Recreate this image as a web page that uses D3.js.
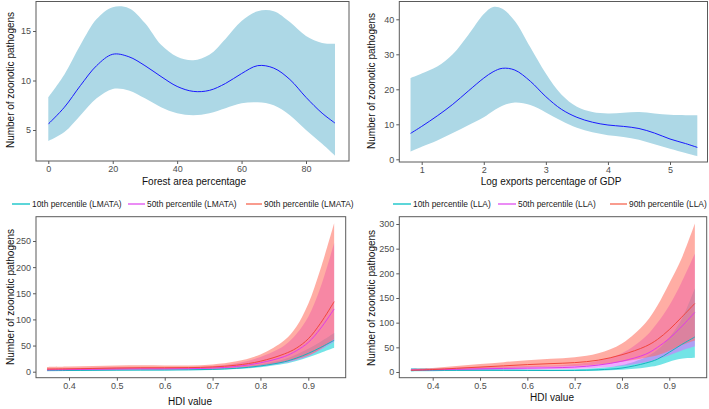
<!DOCTYPE html>
<html><head><meta charset="utf-8">
<script src="https://cdn.jsdelivr.net/npm/d3@7"></script>
<style>body{margin:0;background:#fff}text{font-family:"Liberation Sans",Arial,sans-serif}</style>
</head><body>
<svg id="chart" width="709" height="409"></svg>
<script>
// ---------- data ----------
const forestX     = [0,5,10,15,20,25,30,35,40,45,50,55,60,65,70,75,80,85,89];
const forestFit   = [5.6,7.3,9.5,11.5,12.65,12.4,11.5,10.4,9.4,8.9,9.0,9.7,10.7,11.5,11.25,10.1,8.3,6.7,5.7];
const forestUpper = [8.3,10.6,13.6,16.2,17.4,17.3,15.8,13.6,12.4,12.05,12.6,14.2,16.0,17.0,17.0,15.9,14.5,13.8,13.7];
const forestLower = [3.9,4.8,6.5,8.2,9.15,9.0,8.2,7.3,6.7,6.5,6.7,7.2,7.7,7.8,7.5,6.5,5.0,3.6,2.4];
const forestXTicks = [0,20,40,60,80];
const forestYTicks = [5,10,15];

const exportX     = [0.82,1.0,1.25,1.5,1.75,2.0,2.15,2.3,2.5,2.75,3.0,3.25,3.5,3.75,4.0,4.25,4.5,4.75,5.0,5.25,5.44];
const exportFit   = [7.4,9.4,12.4,15.7,19.5,23.2,25.0,26,25.5,22.3,17.9,14.3,12.0,10.6,9.8,9.4,8.8,7.5,5.8,4.5,3.4];
const exportUpper = [23.2,24.5,26.5,30,35.5,41.5,43.5,43,39.5,32,24.5,18.5,15,13.5,13.1,13.3,13.5,13.1,12.7,12.6,12.6];
const exportLower = [2.2,3.6,5.4,7.5,9.7,12,13.8,15.3,16.2,15.5,13.4,11,9,7.7,6.9,6.4,5.6,4.3,3.0,1.8,0.9];
const exportXTicks = [1,2,3,4,5];
const exportYTicks = [0,10,20,30,40];

const hdiX = [0.354,0.4,0.45,0.5,0.55,0.6,0.65,0.7,0.75,0.8,0.85,0.875,0.9,0.925,0.954];
const hdiXTicks = [0.4,0.5,0.6,0.7,0.8,0.9];

// LMATA
const lmata10Fit   = [2,2.3,2.7,3,3.2,3.3,3.6,4.5,6.5,11,19,26,35,46,60];
const lmata10Upper = [3,3.3,3.7,4,4.2,4.3,4.7,5.8,8.4,14,24,33,44,57,74];
const lmata10Lower = [1.3,1.6,1.9,2.2,2.4,2.5,2.7,3.4,5,8.5,15,20.5,27.5,36,46];
const lmata50Fit   = [3.5,4,4.6,5.2,5.5,5.5,5.8,7,10,17,29,40,56,82,120];
const lmata50Upper = [6,6.6,7.5,8.3,8.7,8.6,9,11,16,28,50,72,105,160,246];
const lmata50Lower = [2,2.4,2.8,3.3,3.5,3.5,3.7,4.4,6.2,10.3,17,22.5,30,42,58];
const lmata90Fit   = [5,5.5,6.2,7,7.5,7.5,7.8,9,12.5,20,34,45,63,92,134];
const lmata90Upper = [9,9.8,10.8,11.8,12.3,12,12,14,20,33,60,86,130,195,284];
const lmata90Lower = [2.8,3.1,3.6,4.2,4.6,4.7,5,5.8,7.8,12,19,24,31,43,62];
const lmataYTicks = [0,50,100,150,200,250];
const lmataLabels = ["10th percentile (LMATA)","50th percentile (LMATA)","90th percentile (LMATA)"];

// LLA
const lla10Fit   = [3,3.2,3.4,3.5,3.4,3.2,3,3.2,4.5,8,18,26,40,55,71];
const lla10Upper = [8,7,6.5,6,5.7,5.3,5,5.5,8,14,30,45,70,105,170];
const lla10Lower = [1.2,1.5,1.8,2,2,1.9,1.8,1.9,2.5,4.5,9,13,21,27,29];
const lla50Fit   = [4,4.5,5.5,6.5,7.2,7.8,8.5,10,14,22,36,50,68,91,121];
const lla50Upper = [6.5,7,8.5,10,11,12,13,16,23,38,72,100,135,180,240];
const lla50Lower = [2.5,2.9,3.6,4.2,4.7,5,5.5,6.3,8.5,12.5,20,26,34,43,52];
const lla90Fit   = [3.5,5,7.5,10,12.5,15,17,19,24,35,52,66,86,110,139];
const lla90Upper = [6,8,12,16,20,24,27,30,38,58,100,135,180,228,301];
const lla90Lower = [2,3,4.7,6.2,7.8,9.3,10.5,12,15,21,29,34,43,54,64];
const llaYTicks = [0,50,100,150,200,250,300];
const llaLabels = ["10th percentile (LLA)","50th percentile (LLA)","90th percentile (LLA)"];

const yTitle = "Number of zoonotic pathogens";

// ---------- styles ----------
const fillCol = ["#00CED1","#E066FF","#FF6A5A"];
const lineCol = ["#14B4BE","#E03CE8","#F2453C"];
const keyCol  = ["#5CD6D9","#EB8CF5","#F99C8E"];

const svg = d3.select("#chart");
const curve = d3.curveCatmullRom.alpha(0.5);

function panel(cfg){
  const g = svg.append("g");
  const x = d3.scaleLinear().domain(cfg.xd).range(cfg.xr);
  const y = d3.scaleLinear().domain(cfg.yd).range(cfg.yr);
  const area = d3.area().curve(curve).x(d=>x(d.x)).y0(d=>y(d.lo)).y1(d=>y(d.hi));
  const line = d3.line().curve(curve).x(d=>x(d.x)).y(d=>y(d.v));
  cfg.series.forEach(s=>{
    const pts = cfg.xs.map((xv,i)=>({x:xv,lo:s.lo[i],hi:s.hi[i],v:s.fit[i]}));
    g.append("path").attr("d",area(pts)).attr("fill",s.fill).attr("fill-opacity",s.op);
  });
  cfg.series.forEach(s=>{
    const pts = cfg.xs.map((xv,i)=>({x:xv,v:s.fit[i]}));
    g.append("path").attr("d",line(pts)).attr("fill","none").attr("stroke",s.line).attr("stroke-width",s.lw||1);
  });
  g.append("rect").attr("x",cfg.box[0]).attr("y",cfg.box[1]).attr("width",cfg.box[2]-cfg.box[0]).attr("height",cfg.box[3]-cfg.box[1])
    .attr("fill","none").attr("stroke","#5a5a5a").attr("stroke-width",1);
  const xa = g.append("g").attr("transform",`translate(0,${cfg.box[3]})`)
    .call(d3.axisBottom(x).tickValues(cfg.xt).tickSize(3).tickPadding(2).tickFormat(cfg.xf||d3.format("")));
  const ya = g.append("g").attr("transform",`translate(${cfg.box[0]},0)`)
    .call(d3.axisLeft(y).tickValues(cfg.yt).tickSize(3).tickPadding(2).tickFormat(d3.format("")));
  [xa,ya].forEach(a=>{
    a.select(".domain").remove();
    a.selectAll("line").attr("stroke","#5a5a5a");
    a.selectAll("text").attr("fill","#4d4d4d").style("font-size","9px").style("font-family","Liberation Sans, Arial, sans-serif");
  });
  g.append("text").attr("x",cfg.xtitle[0]).attr("y",cfg.xtitle[1]).attr("text-anchor","middle")
    .style("font-size","10px").attr("fill","#111").text(cfg.xlab);
  g.append("text").attr("transform",`translate(${cfg.ytitle[0]},${cfg.ytitle[1]}) rotate(-90)`).attr("text-anchor","middle")
    .attr("dominant-baseline","central").style("font-size","10px").attr("fill","#111").text(yTitle);
}

const blue = {fill:"#ADD8E6",op:1,line:"#1a1aff"};
panel({xd:[0,80],xr:[48.3,306],yd:[5,15],yr:[130,31],box:[36,1.5,349,161],
  xs:forestX,series:[{...blue,fit:forestFit,hi:forestUpper,lo:forestLower}],
  xt:forestXTicks,yt:forestYTicks,xlab:"Forest area percentage",xtitle:[194,185],ytitle:[10,80]});
panel({xd:[1,5],xr:[421.7,670],yd:[0,40],yr:[159.3,19.3],box:[399.3,1.5,707.5,162],
  xs:exportX,series:[{...blue,fit:exportFit,hi:exportUpper,lo:exportLower}],
  xt:exportXTicks,yt:exportYTicks,xlab:"Log exports percentage of GDP",xtitle:[551,185],ytitle:[371,81]});

function tri(f,u,l){return [0,1,2].map(i=>({fill:fillCol[i],op:0.55,line:lineCol[i],fit:f[i],hi:u[i],lo:l[i]}));}
panel({xd:[0.4,0.9],xr:[69,308.3],yd:[0,250],yr:[371.7,241],box:[36,216.7,345.7,377.7],
  xs:hdiX,series:tri([lmata10Fit,lmata50Fit,lmata90Fit],[lmata10Upper,lmata50Upper,lmata90Upper],[lmata10Lower,lmata50Lower,lmata90Lower]),
  xt:hdiXTicks,yt:lmataYTicks,xf:d3.format(".1f"),xlab:"HDI value",xtitle:[190,405],ytitle:[10,297]});
panel({xd:[0.4,0.9],xr:[432.7,669.3],yd:[0,300],yr:[372,224],box:[399.3,216.7,706.7,377.7],
  xs:hdiX,series:tri([lla10Fit,lla50Fit,lla90Fit],[lla10Upper,lla50Upper,lla90Upper],[lla10Lower,lla50Lower,lla90Lower]),
  xt:hdiXTicks,yt:llaYTicks,xf:d3.format(".1f"),xlab:"HDI value",xtitle:[552,401],ytitle:[371,298]});

function legend(labels,keys,yc){
  const lg = svg.append("g");
  labels.forEach((t,i)=>{
    lg.append("line").attr("x1",keys[i][0]).attr("x2",keys[i][1]).attr("y1",yc).attr("y2",yc)
      .attr("stroke",keyCol[i]).attr("stroke-width",2);
    lg.append("text").attr("x",keys[i][1]+2).attr("y",yc).attr("dominant-baseline","central")
      .style("font-size","8.4px").attr("fill","#222").text(t);
  });
}
legend(lmataLabels,[[12,30],[128,145],[246,262]],204);
legend(llaLabels,[[393,411],[498,516],[610,627]],204);
</script>
</body></html>
